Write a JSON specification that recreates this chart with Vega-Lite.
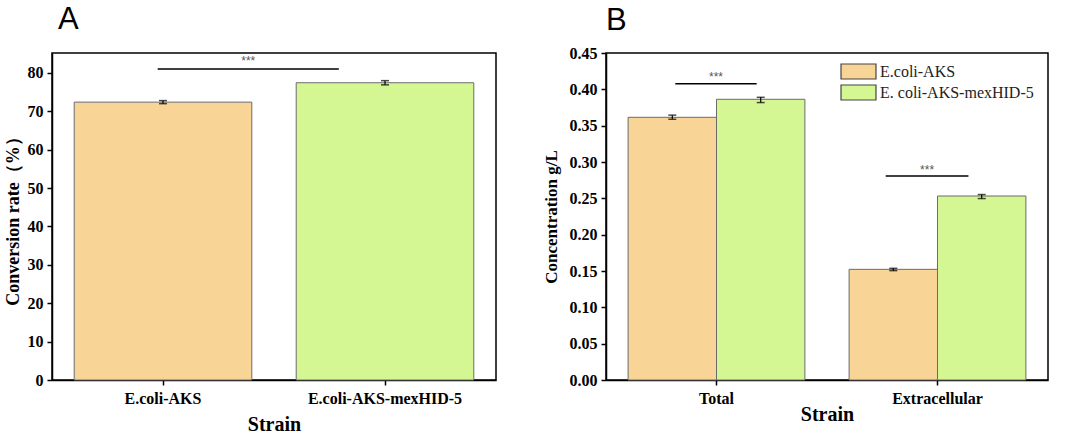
{
  "$schema": "https://vega.github.io/schema/vega-lite/v6.json",
  "padding": {"left": 3, "top": 3, "right": 10, "bottom": 0},
  "background": "white",
  "spacing": 44,
  "config": {
    "view": {"stroke": "black", "strokeWidth": 1.5},
    "axis": {
      "grid": false,
      "domainColor": "black",
      "domainWidth": 1.5,
      "tickColor": "black",
      "tickWidth": 1.5,
      "tickSize": 5,
      "labelFont": "Liberation Serif",
      "labelFontWeight": "bold",
      "labelFontSize": 16,
      "labelColor": "black",
      "labelOverlap": false,
      "titleFont": "Liberation Serif",
      "titleFontWeight": "bold",
      "titleColor": "black"
    },
    "title": {"font": "Liberation Sans", "fontSize": 31, "fontWeight": "normal", "color": "black", "anchor": "start", "frame": "group", "baseline": "alphabetic"}
  },
  "resolve": {"scale": {"color": "independent", "y": "independent", "x": "independent"}},
  "hconcat": [
    {
      "title": {"text": "A", "dx": 6, "offset": 17},
      "width": 444,
      "height": 327,
      "data": {
        "values": [
          {"strain": "E.coli-AKS", "rate": 72.4, "lo": 72.0, "hi": 72.8},
          {"strain": "E.coli-AKS-mexHID-5", "rate": 77.45, "lo": 76.9, "hi": 78.0}
        ]
      },
      "encoding": {
        "x": {
          "field": "strain",
          "type": "nominal",
          "sort": ["E.coli-AKS", "E.coli-AKS-mexHID-5"],
          "scale": {"paddingInner": 0.2, "paddingOuter": 0.1},
          "axis": {"labelAngle": 0, "labelPadding": 5, "title": "Strain", "titleFontSize": 20, "titlePadding": 8}
        }
      },
      "layer": [
        {
          "mark": {"type": "bar", "stroke": "#6b6b6b", "strokeWidth": 1},
          "encoding": {
            "y": {
              "field": "rate",
              "type": "quantitative",
              "scale": {"domain": [0, 85.2], "nice": false},
              "axis": {
                "title": "Conversion rate（%）",
                "titleFontSize": 18,
                "titlePadding": 5,
                "labelPadding": 4,
                "labelOverlap": false,
                "values": [0, 5, 10, 15, 20, 25, 30, 35, 40, 45, 50, 55, 60, 65, 70, 75, 80, 85],
                "labelExpr": "datum.value % 10 === 0 ? datum.label : ''",
                "tickSize": {"condition": {"test": "datum.value % 10 !== 0", "value": 3}, "value": 5}
              }
            },
            "color": {
              "field": "strain",
              "type": "nominal",
              "scale": {"domain": ["E.coli-AKS", "E.coli-AKS-mexHID-5"], "range": ["#F8D597", "#D4F794"]},
              "legend": null
            }
          }
        },
        {
          "mark": {"type": "rule", "color": "black", "strokeWidth": 1.2},
          "encoding": {"y": {"field": "lo", "type": "quantitative"}, "y2": {"field": "hi"}}
        },
        {
          "mark": {"type": "tick", "color": "black", "size": 8, "thickness": 1.5},
          "encoding": {"y": {"field": "lo", "type": "quantitative"}}
        },
        {
          "mark": {"type": "tick", "color": "black", "size": 8, "thickness": 1.5},
          "encoding": {"y": {"field": "hi", "type": "quantitative"}}
        },
        {
          "data": {"values": [{"a": "E.coli-AKS", "b": "E.coli-AKS-mexHID-5", "y": 81.0}]},
          "mark": {"type": "rule", "color": "black", "strokeWidth": 1.5},
          "encoding": {
            "x": {"field": "a", "type": "nominal", "bandPosition": 0.47},
            "x2": {"field": "b", "bandPosition": 0.24},
            "y": {"field": "y", "type": "quantitative"}
          }
        },
        {
          "data": {"values": [{"a": "E.coli-AKS", "ty": 83.0, "label": "***"}]},
          "mark": {"type": "text", "color": "#555", "fontSize": 12, "font": "Liberation Sans", "baseline": "middle"},
          "encoding": {
            "x": {"field": "a", "type": "nominal", "bandPosition": 0.98},
            "y": {"field": "ty", "type": "quantitative"},
            "text": {"field": "label"}
          }
        }
      ]
    },
    {
      "title": {"text": "B", "dx": 0, "offset": 8},
      "width": 442,
      "height": 327,
      "resolve": {"axis": {"y": "independent"}},
      "data": {
        "values": [
          {"part": "Total", "strain": "E.coli-AKS", "conc": 0.3615, "lo": 0.3588, "hi": 0.3645},
          {"part": "Total", "strain": "E. coli-AKS-mexHID-5", "conc": 0.3863, "lo": 0.3818, "hi": 0.3890},
          {"part": "Extracellular", "strain": "E.coli-AKS", "conc": 0.1523, "lo": 0.1505, "hi": 0.1537},
          {"part": "Extracellular", "strain": "E. coli-AKS-mexHID-5", "conc": 0.2532, "lo": 0.2497, "hi": 0.2552}
        ]
      },
      "encoding": {
        "x": {
          "field": "part",
          "type": "nominal",
          "sort": ["Total", "Extracellular"],
          "scale": {"paddingInner": 0.2, "paddingOuter": 0.1},
          "axis": {"labelAngle": 0, "labelPadding": 5, "title": "Strain", "titleFontSize": 20, "titlePadding": -2}
        }
      },
      "layer": [
        {
          "mark": {"type": "bar", "stroke": "#6b6b6b", "strokeWidth": 1},
          "encoding": {
            "xOffset": {
              "field": "strain",
              "type": "nominal",
              "sort": ["E.coli-AKS", "E. coli-AKS-mexHID-5"],
              "scale": {"paddingInner": 0, "paddingOuter": 0}
            },
            "y": {
              "field": "conc",
              "type": "quantitative",
              "scale": {"domain": [0, 0.45], "nice": false},
              "axis": {
                "title": "Concentration g/L",
                "titleFontSize": 17,
                "titlePadding": 9,
                "labelPadding": 4,
                "labelOverlap": false,
                "format": ".2f",
                "values": [0, 0.05, 0.1, 0.15, 0.2, 0.25, 0.3, 0.35, 0.4, 0.45]
              }
            },
            "color": {
              "field": "strain",
              "type": "nominal",
              "scale": {"domain": ["E.coli-AKS", "E. coli-AKS-mexHID-5"], "range": ["#F8D597", "#D4F794"]},
              "legend": {
                "title": null,
                "orient": "none",
                "legendX": 243,
                "legendY": 9,
                "symbolType": "M-2,-0.86H2V0.86H-2Z",
                "symbolSize": 306,
                "symbolStrokeColor": "#444",
                "symbolStrokeWidth": 1.2,
                "labelFont": "Liberation Serif",
                "labelFontSize": 16,
                "labelColor": "#222",
                "labelOffset": 12,
                "rowPadding": 0
              }
            }
          }
        },
        {
          "mark": {"type": "rule", "color": "black", "strokeWidth": 1.2},
          "encoding": {
            "xOffset": {"field": "strain", "type": "nominal", "sort": ["E.coli-AKS", "E. coli-AKS-mexHID-5"]},
            "y": {"field": "lo", "type": "quantitative", "axis": null},
            "y2": {"field": "hi"}
          }
        },
        {
          "mark": {"type": "tick", "color": "black", "size": 8, "thickness": 1.5},
          "encoding": {
            "xOffset": {"field": "strain", "type": "nominal", "sort": ["E.coli-AKS", "E. coli-AKS-mexHID-5"]},
            "y": {"field": "lo", "type": "quantitative", "axis": null}
          }
        },
        {
          "mark": {"type": "tick", "color": "black", "size": 8, "thickness": 1.5},
          "encoding": {
            "xOffset": {"field": "strain", "type": "nominal", "sort": ["E.coli-AKS", "E. coli-AKS-mexHID-5"]},
            "y": {"field": "hi", "type": "quantitative", "axis": null}
          }
        },
        {
          "data": {"values": [{"part": "Total", "y": 0.4078}]},
          "mark": {"type": "rule", "color": "black", "strokeWidth": 1.5},
          "encoding": {
            "x": {"field": "part", "type": "nominal", "bandPosition": 0.267},
            "x2": {"field": "part", "bandPosition": 0.727},
            "y": {"field": "y", "type": "quantitative", "axis": null}
          }
        },
        {
          "data": {"values": [{"part": "Extracellular", "y": 0.2807}]},
          "mark": {"type": "rule", "color": "black", "strokeWidth": 1.5},
          "encoding": {
            "x": {"field": "part", "type": "nominal", "bandPosition": 0.207},
            "x2": {"field": "part", "bandPosition": 0.675},
            "y": {"field": "y", "type": "quantitative", "axis": null}
          }
        },
        {
          "data": {"values": [{"part": "Total", "ty": 0.4175, "label": "***"}]},
          "mark": {"type": "text", "color": "#555", "fontSize": 12, "font": "Liberation Sans", "baseline": "middle"},
          "encoding": {
            "x": {"field": "part", "type": "nominal", "bandPosition": 0.497},
            "y": {"field": "ty", "type": "quantitative", "axis": null},
            "text": {"field": "label"}
          }
        },
        {
          "data": {"values": [{"part": "Extracellular", "ty": 0.2895, "label": "***"}]},
          "mark": {"type": "text", "color": "#555", "fontSize": 12, "font": "Liberation Sans", "baseline": "middle"},
          "encoding": {
            "x": {"field": "part", "type": "nominal", "bandPosition": 0.441},
            "y": {"field": "ty", "type": "quantitative", "axis": null},
            "text": {"field": "label"}
          }
        }
      ]
    }
  ]
}
